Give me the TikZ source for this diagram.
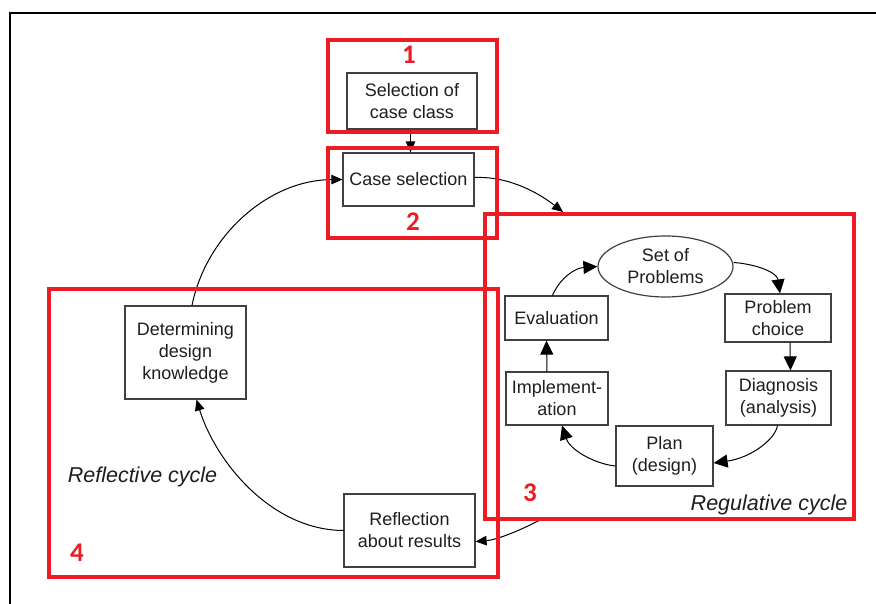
\documentclass[tikz,border=0pt]{standalone}
\usepackage{fontspec}
\setmainfont{Liberation Sans}
\newfontfamily\numfont[BoldFont={Carlito Bold}]{Carlito}
\usetikzlibrary{arrows.meta,shapes.geometric}
\definecolor{frame}{RGB}{236,28,36}
\definecolor{ink}{RGB}{30,30,30}
\tikzset{
  stepbox/.style={draw=ink!85, line width=1.2pt, fill=white, align=center,
    inner sep=2pt, font=\fontsize{18}{22}\selectfont, text=ink},
  conn/.style={draw=black, line width=1pt, -{Triangle[length=14pt,width=13pt]}},
  connsmall/.style={draw=black, line width=1pt, -{Triangle[length=11pt,width=9.5pt]}},
  redbox/.style={draw=frame, line width=3.5pt},
  rednum/.style={text=frame, font=\numfont\bfseries\fontsize{27}{27}\selectfont},
  cyclelabel/.style={font=\itshape\fontsize{21.5}{24}\selectfont, text=ink}
}
\begin{document}
\begin{tikzpicture}[x=1pt,y=-1pt]
\useasboundingbox (0,0) rectangle (876,604);
\fill[white] (0,0) rectangle (876,604);
% outer frame (top and left edges)
\draw[line width=1.6pt] (10,604) -- (10,13) -- (876,13);

% reflective cycle steps
\node[stepbox, minimum width=130pt, minimum height=56pt] (sel) at (412,101) {Selection of\\case class};
\node[stepbox, minimum width=131pt, minimum height=53pt] (cases) at (408.5,179.5) {Case selection};
\node[stepbox, minimum width=121pt, minimum height=93pt] (det) at (185.5,352.5) {Determining\\design\\knowledge};
\node[stepbox, minimum width=131pt, minimum height=73pt] (refl) at (409.5,530.5) {Reflection\\about results};

% regulative cycle steps
\node[stepbox, ellipse, minimum width=135pt, minimum height=61pt, inner sep=0pt] (sop) at (665.5,266.5) {Set of\\Problems};
\node[stepbox, minimum width=106pt, minimum height=48pt] (pchoice) at (778,318) {Problem\\choice};
\node[stepbox, minimum width=105pt, minimum height=54pt] (diag) at (778.5,398) {Diagnosis\\(analysis)};
\node[stepbox, minimum width=97pt, minimum height=60pt] (plan) at (664.5,456) {Plan\\(design)};
\node[stepbox, minimum width=102pt, minimum height=53pt] (impl) at (557,398.5) {Implement-\\ation};
\node[stepbox, minimum width=103pt, minimum height=44pt] (eval) at (556.5,318) {Evaluation};

% free ends of the connectors crossing into and out of the regulative cycle
\coordinate (regin) at (563,212);
\coordinate (regout) at (540,520);

% reflective cycle connectors (shifts are in page points: negative yshift goes down)
\draw[connsmall] ([xshift=-1.5pt]sel.south) -- ([xshift=2pt]cases.north);
\draw[connsmall] ([yshift=2pt]cases.east) .. controls (510,176) and (540,194) .. (regin);
\draw[connsmall] ([xshift=6.5pt]det.north) .. controls (206,236) and (268,180) .. (cases.west);
\draw[connsmall] (refl.west) .. controls (270,530) and (215,460) .. ([xshift=11pt]det.south);
\draw[connsmall] (regout) .. controls (515,533) and (495,540) .. ([yshift=-11pt]refl.east);

% regulative cycle connectors
\draw[conn] ([xshift=-4pt]eval.north) .. controls (560,278) and (575,268) .. (sop.west);
\draw[conn] ([yshift=4pt]sop.east) .. controls (755,264) and (777,272) .. ([xshift=2pt]pchoice.north);
\draw[conn] ([xshift=12pt]pchoice.south) -- ([xshift=12pt]diag.north);
\draw[conn] ([xshift=-1pt]diag.south) .. controls (775,440) and (750,458) .. ([yshift=-7pt]plan.east);
\draw[conn] ([yshift=-10pt]plan.west) .. controls (595,464) and (570,450) .. ([xshift=5pt]impl.south);
\draw[conn] ([xshift=-10pt]impl.north) -- ([xshift=-10pt]eval.south);

% labels of the two cycles
\node[cyclelabel] (reflab) at (142.5,477) {Reflective cycle};
\node[cyclelabel] (reglab) at (769,505) {Regulative cycle};

% numbered highlight frames
\draw[redbox] (328,40) rectangle (497,132);
\draw[redbox] (328,148) rectangle (497,238);
\draw[redbox] (485,214) rectangle (854,519);
\draw[redbox] (49,289) rectangle (498,577);
\node[rednum] (n1) at (409,55) {1};
\node[rednum] (n2) at (413,222) {2};
\node[rednum] (n3) at (530,493) {3};
\node[rednum] (n4) at (77,553) {4};
\end{tikzpicture}
\end{document}
